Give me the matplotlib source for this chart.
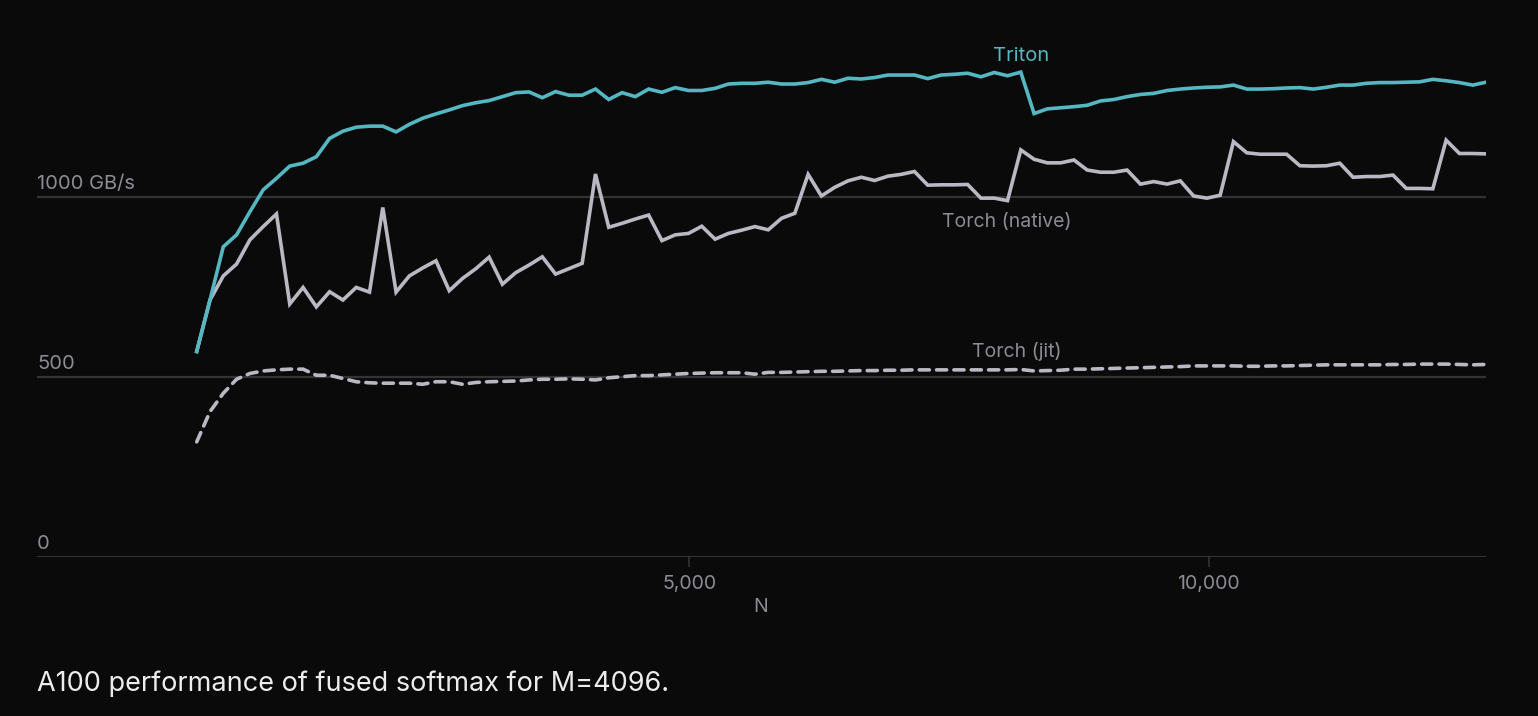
import numpy as np
import matplotlib
matplotlib.use("Agg")
import matplotlib.pyplot as plt

plt.rcParams['font.family'] = ['Inter', 'DejaVu Sans']

# N = 128 * i, i = 2..99
N = [128 * i for i in range(2, 100)]

triton = [570, 713, 861, 894, 958, 1019, 1051, 1085, 1093, 1111,
          1162, 1182, 1193, 1196, 1196, 1180, 1201, 1218, 1230, 1241,
          1253, 1261, 1267, 1278, 1289, 1291, 1275, 1292, 1282, 1282,
          1299, 1270, 1289, 1278, 1299, 1290, 1303, 1295, 1295, 1301,
          1313, 1315, 1315, 1318, 1313, 1313, 1317, 1326, 1318, 1329,
          1327, 1331, 1338, 1338, 1338, 1328, 1338, 1340, 1343, 1333,
          1345, 1336, 1346, 1231, 1244, 1247, 1250, 1254, 1266, 1270,
          1278, 1284, 1287, 1295, 1299, 1302, 1304, 1305, 1310, 1299,
          1299, 1300, 1302, 1303, 1299, 1304, 1310, 1310, 1315, 1317,
          1317, 1318, 1319, 1326, 1322, 1317, 1310, 1318]

torch_native = [570, 713, 780, 813, 880, 917, 952, 702, 748, 694,
                736, 713, 748, 735, 970, 735, 780, 802, 822, 739,
                773, 800, 832, 757, 789, 810, 833, 785, 800, 815,
                1063, 915, 926, 938, 949, 878, 894, 898, 918, 882,
                898, 907, 917, 908, 940, 954, 1062, 1002, 1026, 1044,
                1054, 1045, 1057, 1062, 1070, 1032, 1033, 1033, 1034, 996,
                996, 989, 1130, 1104, 1094, 1094, 1102, 1074, 1068, 1068,
                1074, 1035, 1042, 1035, 1044, 1002, 996, 1004, 1153, 1122,
                1118, 1118, 1118, 1086, 1085, 1086, 1093, 1054, 1056, 1056,
                1060, 1023, 1023, 1022, 1157, 1120, 1120, 1119]

torch_jit = [319, 403, 454, 493, 509, 516, 519, 521, 521, 504,
             504, 495, 486, 483, 482, 482, 482, 479, 486, 486,
             479, 484, 486, 487, 488, 491, 493, 493, 494, 493,
             491, 497, 500, 503, 503, 505, 507, 509, 510, 511,
             511, 511, 507, 512, 512, 513, 514, 515, 515, 516,
             517, 517, 518, 518, 519, 519, 519, 519, 519, 519,
             519, 519, 520, 516, 517, 518, 521, 521, 522, 523,
             524, 525, 526, 527, 528, 530, 530, 530, 530, 529,
             529, 530, 530, 531, 532, 533, 533, 533, 533, 533,
             534, 534, 535, 535, 535, 534, 533, 534]

y_ticks = [0, 500, 1000]
y_tick_labels = ["0", "500", "1000 GB/s"]
x_ticks = [5000, 10000]
x_tick_labels = ["5,000", "10,000"]

bg = "#0a0a0a"
teal = "#55b7c2"
light = "#b9b8c3"
muted = "#8d8c94"
grid_c = "#333335"

fig = plt.figure(figsize=(15.38, 7.16), dpi=100, facecolor=bg)
ax = fig.add_axes([37 / 1538, (716 - 556.7) / 716, 1449 / 1538, 522 / 716])
ax.set_facecolor(bg)

ax.set_xlim(-1282, 12672)
ax.set_ylim(0, 1450)

for yv, lab in zip(y_ticks, y_tick_labels):
    ax.axhline(yv, color=grid_c, lw=1.6, zorder=1)
    ax.text(-1282, yv + 9, lab, color=muted, fontsize=14.5,
            ha="left", va="bottom")

ax.plot(N, torch_jit, color=light, lw=2.6, dashes=(2.8, 2.0),
        dash_capstyle="round", zorder=3)
ax.plot(N, torch_native, color=light, lw=2.6, zorder=3,
        solid_joinstyle="miter")
ax.plot(N, triton, color=teal, lw=2.6, zorder=4, solid_joinstyle="miter")

ax.text(8200, 1365, "Triton", color=teal, fontsize=14.5, ha="center", va="bottom")
ax.text(8060, 905, "Torch (native)", color=muted, fontsize=14, ha="center", va="bottom")
ax.text(8150, 545, "Torch (jit)", color=muted, fontsize=14, ha="center", va="bottom")

ax.set_yticks([])
ax.set_xticks(x_ticks)
ax.set_xticklabels(x_tick_labels, color=muted, fontsize=14)
ax.tick_params(axis="x", length=7, width=1.2, color=grid_c, pad=6)
for s in ax.spines.values():
    s.set_visible(False)

ax.text(5690, -140, "N", color=muted, fontsize=14, ha="center", va="center")

fig.text(37 / 1538, 1 - 684 / 716, "A100 performance of fused softmax for M=4096.",
         color="#ececec", fontsize=19.5, ha="left", va="center")

fig.savefig("out.png", dpi=100, facecolor=bg)
